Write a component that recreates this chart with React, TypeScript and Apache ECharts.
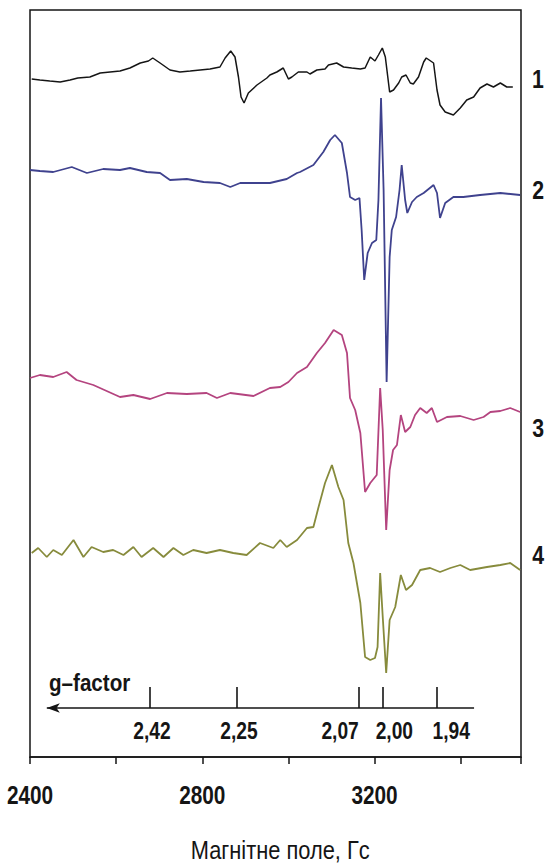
import React, { useEffect, useRef } from "react";
import * as echarts from "echarts";

// Magnetic field (G) and signal intensity (a.u.)
const trace1: number[][] = [
  [2404, 678], [2423, 677], [2446, 676], [2470, 675], [2493, 677], [2511, 679], [2539, 680],
  [2563, 684], [2586, 685], [2609, 686], [2632, 689], [2656, 694], [2675, 696], [2685, 699],
  [2702, 694], [2725, 687], [2748, 685], [2772, 686], [2795, 687], [2818, 688], [2841, 690],
  [2853, 699], [2866, 706], [2876, 700], [2884, 680], [2890, 660], [2897, 654], [2907, 664],
  [2927, 672], [2950, 679], [2957, 682], [2973, 685], [2988, 689], [3000, 678], [3008, 680],
  [3023, 685], [3043, 685], [3050, 683], [3066, 687], [3085, 688], [3093, 692], [3112, 694],
  [3128, 690], [3147, 689], [3167, 688], [3178, 689], [3190, 700], [3201, 696], [3209, 702],
  [3218, 709], [3225, 700], [3235, 665], [3244, 667], [3256, 674], [3263, 680], [3273, 682],
  [3283, 674], [3290, 673], [3302, 680], [3314, 695], [3320, 699], [3337, 694], [3345, 667],
  [3352, 652], [3364, 645], [3383, 642], [3399, 649], [3414, 657], [3430, 660], [3445, 669],
  [3461, 673], [3476, 670], [3492, 674], [3507, 670], [3521, 670],
];

const trace2: number[][] = [
  [2400, 587], [2423, 586], [2454, 585], [2497, 590], [2532, 584], [2570, 588], [2609, 587],
  [2632, 589], [2671, 585], [2702, 584], [2725, 577], [2764, 578], [2803, 575], [2841, 574],
  [2865, 570], [2888, 574], [2919, 574], [2957, 574], [2996, 578], [3020, 584], [3027, 585],
  [3058, 592], [3081, 605], [3097, 617], [3108, 622], [3124, 614], [3136, 584], [3143, 560],
  [3155, 557], [3165, 559], [3170, 527], [3176, 477], [3184, 504], [3194, 514], [3204, 517],
  [3209, 557], [3215, 659], [3221, 567], [3228, 375], [3235, 500], [3240, 527], [3250, 540],
  [3258, 567], [3263, 592], [3271, 557], [3276, 544], [3287, 555], [3298, 560], [3314, 564],
  [3337, 572], [3345, 564], [3352, 539], [3364, 554], [3383, 560], [3406, 560], [3445, 562],
  [3492, 564], [3538, 562],
];

const trace3: number[][] = [
  [2400, 379], [2423, 382], [2454, 380], [2485, 385], [2508, 377], [2547, 372], [2578, 366],
  [2609, 360], [2640, 362], [2679, 358], [2718, 364], [2764, 363], [2810, 364], [2834, 359],
  [2865, 364], [2919, 361], [2957, 369], [2981, 370], [3000, 375], [3020, 384], [3043, 390],
  [3066, 404], [3085, 414], [3105, 427], [3124, 422], [3136, 404], [3143, 359], [3155, 347],
  [3167, 324], [3178, 265], [3190, 274], [3205, 282], [3213, 369], [3219, 327], [3227, 227],
  [3235, 287], [3243, 307], [3252, 312], [3261, 342], [3271, 325], [3283, 330], [3294, 342],
  [3306, 349], [3321, 344], [3333, 349], [3345, 335], [3368, 340], [3399, 341], [3430, 337],
  [3453, 340], [3469, 345], [3492, 346], [3515, 349], [3538, 345],
];

const trace4: number[][] = [
  [2404, 204], [2419, 209], [2439, 200], [2454, 207], [2474, 202], [2501, 217], [2524, 200],
  [2543, 210], [2570, 205], [2593, 207], [2617, 202], [2640, 210], [2659, 200], [2686, 209],
  [2710, 200], [2733, 209], [2756, 202], [2779, 207], [2810, 204], [2841, 207], [2872, 204],
  [2903, 202], [2934, 214], [2965, 209], [2981, 217], [2996, 210], [3020, 217], [3043, 229],
  [3058, 230], [3070, 250], [3085, 274], [3101, 292], [3116, 270], [3128, 257], [3139, 214],
  [3151, 194], [3167, 154], [3178, 100], [3190, 97], [3201, 99], [3207, 110], [3213, 184],
  [3219, 140], [3227, 84], [3235, 137], [3248, 150], [3261, 182], [3273, 167], [3287, 172],
  [3306, 187], [3329, 189], [3352, 185], [3376, 189], [3399, 192], [3422, 187], [3461, 190],
  [3492, 192], [3515, 194], [3538, 187],
];

const traceNames = ["1", "2", "3", "4"];
const traceColors = ["#151515", "#3f428e", "#b4447f", "#878b3c"];

// g-factor scale: tick labels, field where each tick sits, field where each label is centred
const gTickLabels = ["2,42", "2,25", "2,07", "2,00", "1,94"];
const gTickFields = [2679, 2881, 3164, 3219, 3344];
const gLabelFields = [2683, 2885, 3120, 3246, 3378];
const gAxisFrom = 3431;
const gAxisTo = 2439;
const gAxisLevel = 49;
const gTickTop = 70;
const gLabelLevel = 26;
const gTitle = "g–factor";
const gTitlePos = [2444, 74];

// field axis
const FIELD_MIN = 2400;
const FIELD_MAX = 3540;
const fieldLabels = [2400, 2800, 3200];
const fieldLabelLevel = -38;
const axisTitle = "Магнітне поле, Гс";
const axisTitlePos = [2981, -93];

const FONT = "'Liberation Sans', Arial, Helvetica, sans-serif";

type TextSpec = {
  at: number[];
  text: string;
  size: number;
  weight: string;
  align: string;
  sx: number;
  dx?: number;
  dy?: number;
};

export default function App() {
  const ref = useRef<HTMLDivElement>(null);

  useEffect(() => {
    document.body.style.margin = "0";
    const chart = echarts.init(ref.current!, null, { renderer: "svg" });

    const traces = [trace1, trace2, trace3, trace4];
    const traceLabelOffsets = [
      [25, -8],
      [18, -5],
      [18, 16],
      [18, -15],
    ];

    const texts: TextSpec[] = [
      ...fieldLabels.map((v) => ({
        at: [v, fieldLabelLevel],
        text: String(v),
        size: 26,
        weight: "bold",
        align: "center",
        sx: 0.8,
      })),
      {
        at: axisTitlePos,
        text: axisTitle,
        size: 26,
        weight: "normal",
        align: "center",
        sx: 0.84,
      },
      ...gTickLabels.map((t, i) => ({
        at: [gLabelFields[i], gLabelLevel],
        text: t,
        size: 24,
        weight: "bold",
        align: "center",
        sx: 0.8,
      })),
      {
        at: gTitlePos,
        text: gTitle,
        size: 24,
        weight: "bold",
        align: "left",
        sx: 0.86,
      },
      ...traces.map((d, i) => ({
        at: d[d.length - 1],
        text: traceNames[i],
        size: 25,
        weight: "bold",
        align: "center",
        sx: 0.85,
        dx: traceLabelOffsets[i][0],
        dy: traceLabelOffsets[i][1],
      })),
    ];

    const traceSeries = traces.map((d, i) => ({
      type: "line",
      name: traceNames[i],
      data: d,
      showSymbol: false,
      symbol: "none",
      lineStyle: { color: traceColors[i], width: i === 0 ? 1.5 : 1.8 },
      itemStyle: { color: traceColors[i] },
      z: 3,
    }));

    const gAxisSeries = {
      type: "line",
      name: "g-axis",
      data: [
        [gAxisTo, gAxisLevel],
        [gAxisFrom, gAxisLevel],
      ],
      showSymbol: false,
      symbol: "none",
      lineStyle: { opacity: 0 },
      markLine: {
        silent: true,
        animation: false,
        label: { show: false },
        lineStyle: { color: "#151515", width: 1.6, type: "solid" },
        symbol: ["none", "none"],
        data: [
          [
            { coord: [gAxisFrom, gAxisLevel], symbol: "none" },
            { coord: [gAxisTo, gAxisLevel], symbol: "arrow", symbolSize: [7, 13] },
          ],
          ...gTickFields.map((f) => [
            { coord: [f, gAxisLevel], symbol: "none" },
            { coord: [f, gTickTop], symbol: "none" },
          ]),
        ],
      },
    };

    const textSeries = {
      type: "custom",
      name: "texts",
      coordinateSystem: "cartesian2d",
      clip: false,
      silent: true,
      z: 10,
      data: texts.map((t) => [t.at[0], t.at[1]]),
      encode: { x: 0, y: 1 },
      renderItem: (params: any, api: any) => {
        const t = texts[params.dataIndex];
        const p = api.coord(t.at);
        return {
          type: "text",
          x: p[0] + (t.dx || 0),
          y: p[1] + (t.dy || 0),
          scaleX: t.sx,
          style: {
            text: t.text,
            fontFamily: FONT,
            fontSize: t.size,
            fontWeight: t.weight,
            fill: "#151515",
            align: t.align,
            verticalAlign: "middle",
          },
        };
      },
    };

    chart.setOption({
      animation: false,
      backgroundColor: "#ffffff",
      grid: {
        left: 30,
        right: 24,
        top: 10,
        bottom: 107,
        show: true,
        borderColor: "#151515",
        borderWidth: 1.5,
        backgroundColor: "transparent",
      },
      xAxis: {
        type: "value",
        min: FIELD_MIN,
        max: FIELD_MAX,
        interval: 200,
        splitLine: { show: false },
        axisLine: { show: true, lineStyle: { color: "#151515", width: 1.5 } },
        axisTick: { show: true, length: 7, lineStyle: { color: "#151515", width: 1.5 } },
        axisLabel: { show: false },
      },
      yAxis: {
        type: "value",
        min: 0,
        max: 747,
        show: false,
      },
      series: [...traceSeries, gAxisSeries, textSeries],
    });

    return () => chart.dispose();
  }, []);

  return <div ref={ref} style={{ width: 545, height: 864 }} />;
}
